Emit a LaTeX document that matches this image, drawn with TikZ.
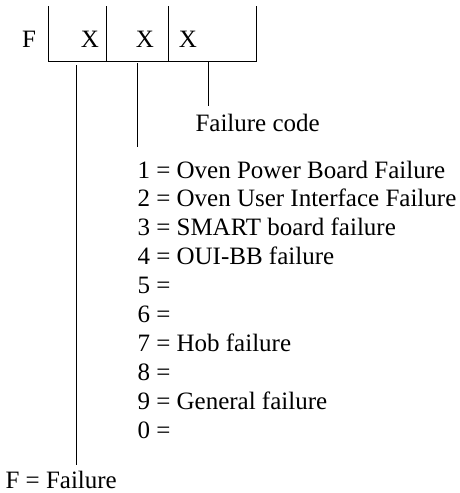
\documentclass[tikz,border=0pt]{standalone}
\usepackage{fontspec}
\setmainfont{LiberationSerif}[Extension=.ttf, UprightFont=*-Regular]
\usetikzlibrary{positioning,calc}

\begin{document}
\begin{tikzpicture}[
	x=1pt, y=1pt,
	line width=1pt,
	txt/.style={anchor=base west, inner sep=0pt, font=\fontsize{25}{29}\selectfont},
	digit/.style={anchor=base, inner sep=0pt, font=\fontsize{25}{29}\selectfont}
	]
		\useasboundingbox (0,0) rectangle (459,-493);
		% box
		\coordinate	(boxtl)		at	(48,-6);
		\coordinate	(boxtr)		at	(256,-6);
		\coordinate	(boxbl)		at	(48,-61);
		\coordinate	(boxbr)		at	(256,-61);
		\coordinate	(sepa)		at	(106,-6);
		\coordinate	(sepb)		at	(168,-6);
		\draw (boxtl) -- (boxbl) -- (boxbr) -- (boxtr);
		\draw (sepa) -- (sepa |- boxbl);
		\draw (sepb) -- (sepb |- boxbl);
		
		\node[digit]	(fchar)		at	(29,-47)		{F};
		\node[digit]	(xa)		at	(90,-47)		{X};
		\node[digit]	(xb)		at	(145,-47)		{X};
		\node[digit]	(xc)		at	(188,-47)		{X};
		
		% labels
		\node[txt]	(fcode)		at	(195,-131)		{Failure code};
		\node[txt]	(code1)		at	(137,-178)		{1 = Oven Power Board Failure};
		\node[txt]	(code2)		at	(137,-206.9)	{2 = Oven User Interface Failure};
		\node[txt]	(code3)		at	(137,-235.8)	{3 = SMART board failure};
		\node[txt]	(code4)		at	(137,-264.7)	{4 = OUI-BB failure};
		\node[txt]	(code5)		at	(137,-293.6)	{5 =};
		\node[txt]	(code6)		at	(137,-322.5)	{6 =};
		\node[txt]	(code7)		at	(137,-351.4)	{7 = Hob failure};
		\node[txt]	(code8)		at	(137,-380.3)	{8 =};
		\node[txt]	(code9)		at	(137,-409.2)	{9 = General failure};
		\node[txt]	(code0)		at	(137,-438.1)	{0 =};
		\node[txt]	(ffail)		at	(5,-488)		{F = Failure};
		
		% leaders
		\coordinate	(leada)		at	(76,-65);
		\coordinate	(leadb)		at	(137,-63);
		\coordinate	(leadc)		at	(208,-61);
		\draw (leada) -- ($(leada |- ffail.north) + (0,5)$);
		\draw (leadb) -- (137,-147);
		\draw (leadc) -- (208,-106);
	\end{tikzpicture}
\end{document}
